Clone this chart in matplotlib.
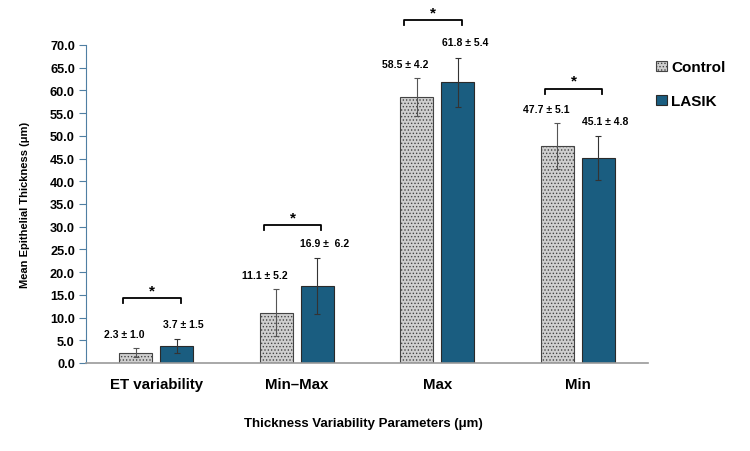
import numpy as np
import matplotlib.pyplot as plt

plt.rcParams['font.family'] = ['Liberation Sans', 'DejaVu Sans']
plt.rcParams['hatch.linewidth'] = 0.6

categories = ['ET variability', 'Min\u2013Max', 'Max', 'Min']
control_mean = [2.3, 11.1, 58.5, 47.7]
control_sd = [1.0, 5.2, 4.2, 5.1]
lasik_mean = [3.7, 16.9, 61.8, 45.1]
lasik_sd = [1.5, 6.2, 5.4, 4.8]
control_labels = ['2.3 \u00b1 1.0', '11.1 \u00b1 5.2', '58.5 \u00b1 4.2', '47.7 \u00b1 5.1']
lasik_labels = ['3.7 \u00b1 1.5', '16.9 \u00b1  6.2', '61.8 \u00b1 5.4', '45.1 \u00b1 4.8']
star_height = [14.3, 30.4, 75.5, 60.4]

fig = plt.figure(figsize=(7.5, 4.52), dpi=100)
ax = fig.add_axes([86 / 750, 1 - 364 / 452, 562 / 750, 318 / 452])

x = np.arange(len(categories))
w = 0.235
off = 0.146

ax.bar(x - off, control_mean, w, color='#cfcfcf', edgecolor='#444444',
       linewidth=0.8, hatch='.....', label='Control', zorder=2)
ax.bar(x + off, lasik_mean, w, color='#1a5d80', edgecolor='#2a2a2a',
       linewidth=0.8, label='LASIK', zorder=2)
ax.errorbar(x - off, control_mean, yerr=control_sd, fmt='none', ecolor='#555555',
            elinewidth=0.8, capsize=2.5, capthick=0.8, zorder=3)
ax.errorbar(x + off, lasik_mean, yerr=lasik_sd, fmt='none', ecolor='#333333',
            elinewidth=0.8, capsize=2.5, capthick=0.8, zorder=3)

# value labels
for i in range(len(categories)):
    ax.text(x[i] - off - 0.08, control_mean[i] + control_sd[i] + 2.0, control_labels[i],
            ha='center', va='bottom', fontsize=7.5, fontweight='bold')
    ax.text(x[i] + off + 0.05, lasik_mean[i] + lasik_sd[i] + 2.3, lasik_labels[i],
            ha='center', va='bottom', fontsize=7.5, fontweight='bold')

# significance brackets
for i in range(len(categories)):
    x0 = x[i] - off - 0.09
    x1 = x[i] + off + 0.03
    y = star_height[i]
    ax.plot([x0, x0, x1, x1], [y - 1.1, y, y, y - 1.1], color='black',
            linewidth=1.3, clip_on=False)
    ax.text((x0 + x1) / 2, y + 0.2, '*', ha='center', va='bottom',
            fontsize=11, fontweight='bold', clip_on=False)

ax.set_xlim(-0.5, 3.5)
ax.set_ylim(0, 70)
ax.set_yticks(np.arange(0, 70.1, 5))
ax.set_yticklabels([f'{v:.1f}' for v in np.arange(0, 70.1, 5)])
ax.set_xticks(x)
ax.set_xticklabels(categories, fontsize=10.8, fontweight='bold')
for lab in ax.get_yticklabels():
    lab.set_fontweight('bold')
    lab.set_fontsize(9.2)
ax.tick_params(axis='x', length=0, pad=10)
ax.tick_params(axis='y', length=5, color='#4f7fa3', pad=3)

for s in ['top', 'right']:
    ax.spines[s].set_visible(False)
ax.spines['left'].set_color('#4f7fa3')
ax.spines['bottom'].set_color('#999999')
ax.spines['bottom'].set_linewidth(1.2)

ax.set_ylabel('Mean Epithelial Thickness (\u03bcm)', fontsize=8, fontweight='bold', labelpad=14)
fig.text(363 / 750, 1 - 424 / 452, 'Thickness Variability Parameters (\u03bcm)',
         ha='center', va='center', fontsize=9.5, fontweight='bold')

ax.legend(loc='upper left', bbox_to_anchor=(0.99, 0.995), frameon=False,
          prop={'weight': 'bold', 'size': 11}, handlelength=0.7, handleheight=0.7,
          handletextpad=0.3, labelspacing=1.3)

fig.savefig('out.png', dpi=100)
